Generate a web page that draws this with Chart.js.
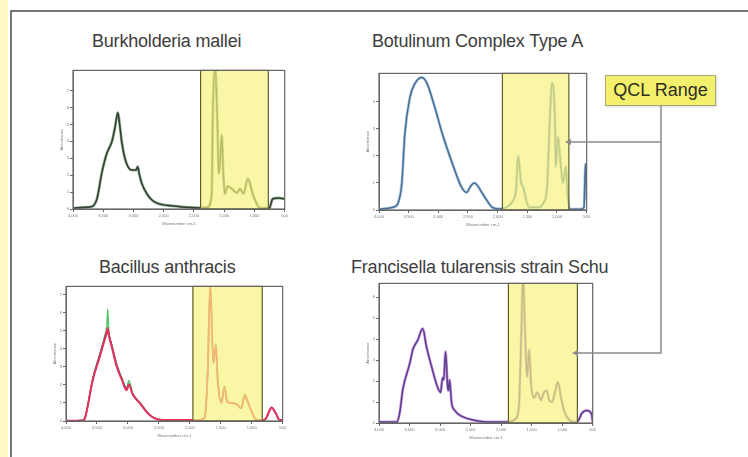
<!DOCTYPE html>
<html>
<head>
<meta charset="utf-8">
<script src="https://cdn.jsdelivr.net/npm/chart.js@4.4.1/dist/chart.umd.min.js"></script>
<style>
  html, body { margin: 0; padding: 0; background: #fff; }
  #page { position: relative; width: 748px; height: 457px; overflow: hidden; background: #fff; }
  #strip { position: absolute; left: 0; top: 0; width: 8px; height: 457px; background: #fcf9c6; }
  canvas { position: absolute; }
  .title { position: absolute; font-family: "Liberation Sans", Arial, sans-serif; font-size: 18px; color: #3d3d3d; white-space: nowrap; letter-spacing: -0.2px; }
  #qcl { position: absolute; left: 605px; top: 75px; width: 109px; height: 29px; background: #f4f06c;
         border: 1px solid #a9a77a; box-shadow: 1px 1px 2px rgba(0,0,0,0.15);
         font-family: "Liberation Sans", Arial, sans-serif; font-size: 18px; color: #2e2e22;
         text-align: center; line-height: 29px; }
  svg { position: absolute; left: 0; top: 0; }
</style>
</head>
<body>
<div id="page">
  <div id="strip"></div>

  <div class="title" style="left:92px; top:31px;">Burkholderia mallei</div>
  <div class="title" style="left:372px; top:31px;">Botulinum Complex Type A</div>
  <div class="title" style="left:99px; top:257px;">Bacillus anthracis</div>
  <div class="title" style="left:351px; top:257px;">Francisella tularensis strain Schu</div>

  <canvas id="c1" width="230" height="160" style="left:59px; top:67px;"></canvas>
  <canvas id="c2" width="226" height="158" style="left:365px; top:70px;"></canvas>
  <canvas id="c3" width="235" height="156" style="left:52px; top:283px;"></canvas>
  <canvas id="c4" width="232" height="161" style="left:365px; top:280px;"></canvas>

  <div id="qcl">QCL Range</div>

  <svg width="748" height="457">
    <!-- outer frame -->
    <polyline points="11,457 11,11 748,11" fill="none" stroke="#4a4a4a" stroke-width="1.5"/>
    <!-- callout connectors -->
    <polyline points="661,105 661,353 576,353" fill="none" stroke="#8a8a8a" stroke-width="1.5"/>
    <line x1="661" y1="142" x2="569" y2="142" stroke="#8a8a8a" stroke-width="1.5"/>
    <polygon points="565,142 571,139 571,145" fill="#8a8a8a"/>
    <polygon points="572,353 578,350 578,356" fill="#8a8a8a"/>
  </svg>
</div>

<script>
// Burkholderia mallei
const wn1 = [4000, 3800, 3686, 3604, 3520, 3440, 3356, 3307, 3274, 3257, 3225, 3191, 3125, 3026, 2960, 2930, 2900, 2861, 2778, 2700, 2613, 2349, 2100, 1903, 1771, 1705, 1689, 1650, 1615, 1590, 1560, 1540, 1515, 1490, 1440, 1375, 1290, 1240, 1180, 1110, 1080, 1030, 960, 910, 790, 750, 720, 700, 600, 500];
const abs1 = [0.05, 0.1, 0.15, 0.6, 2.2, 3.3, 4.0, 4.8, 5.5, 5.7, 4.9, 3.9, 2.8, 2.3, 2.3, 2.5, 2.0, 1.5, 0.9, 0.55, 0.35, 0.18, 0.1, 0.06, 0.1, 1.0, 5.4, 8.5, 5.5, 2.1, 3.2, 4.4, 2.2, 0.9, 1.35, 1.2, 0.95, 1.2, 0.9, 1.8, 1.6, 0.9, 0.3, 0.06, 0.05, 0.06, 0.4, 0.6, 0.65, 0.6];

// Botulinum Complex Type A
const wn2 = [4000, 3765, 3680, 3615, 3565, 3480, 3400, 3280, 3195, 3060, 2930, 2760, 2610, 2525, 2450, 2390, 2340, 2225, 2090, 1975, 1855, 1755, 1690, 1655, 1605, 1570, 1520, 1470, 1300, 1220, 1170, 1120, 1085, 1035, 1020, 985, 935, 900, 850, 820, 785, 585, 545, 520, 505, 500];
const abs2 = [0.03, 0.1, 0.25, 1.0, 2.8, 4.15, 4.65, 4.9, 4.7, 3.8, 2.8, 1.7, 0.85, 0.65, 0.9, 1.0, 0.9, 0.5, 0.1, 0.04, 0.1, 0.3, 0.75, 2.0, 1.0, 0.85, 0.37, 0.1, 0.1, 0.3, 0.75, 3.4, 4.7, 3.4, 1.6, 2.7, 1.6, 1.0, 1.6, 0.5, 0.03, 0.03, 0.1, 1.7, 1.2, 0.4];

// Bacillus anthracis (three replicates)
const wn3 = [4000, 3730, 3695, 3565, 3455, 3375, 3340, 3325, 3310, 3260, 3180, 3100, 3020, 2985, 2920, 2810, 2650, 2520, 2300, 2040, 1850, 1760, 1710, 1670, 1620, 1580, 1550, 1490, 1440, 1395, 1310, 1230, 1170, 1110, 1080, 1010, 960, 900, 800, 760, 710, 680, 600, 550, 500];
const abs3red = [0.02, 0.03, 0.15, 2.3, 3.55, 4.5, 4.9, 5.15, 4.8, 4.1, 3.0, 2.3, 1.7, 2.0, 1.45, 1.0, 0.33, 0.1, 0.05, 0.05, 0.05, 0.2, 2.8, 7.6, 3.2, 4.2, 2.3, 1.0, 1.9, 1.05, 1.0, 0.9, 0.7, 1.45, 1.2, 0.6, 0.2, 0.05, 0.05, 0.2, 0.6, 0.75, 0.35, 0.05, 0.05];
const abs3green = [0.02, 0.03, 0.15, 2.4, 3.7, 4.7, 5.3, 6.2, 5.0, 4.2, 3.1, 2.4, 1.8, 2.25, 1.5, 1.05, 0.35, 0.1, 0.05, 0.05, 0.05, 0.2, 2.9, 7.6, 3.3, 4.3, 2.4, 1.05, 1.95, 1.1, 1.0, 0.9, 0.7, 1.5, 1.25, 0.6, 0.2, 0.05, 0.05, 0.2, 0.6, 0.75, 0.35, 0.05, 0.05];
const abs3gray = [0.02, 0.03, 0.15, 2.35, 3.65, 4.6, 5.0, 5.1, 4.85, 4.2, 3.1, 2.35, 1.8, 2.05, 1.5, 1.0, 0.33, 0.1, 0.05, 0.05, 0.05, 0.2, 2.8, 7.5, 3.2, 4.1, 2.3, 1.0, 1.85, 1.05, 1.0, 0.9, 0.7, 1.4, 1.2, 0.6, 0.2, 0.05, 0.05, 0.2, 0.6, 0.75, 0.35, 0.05, 0.05];

// Francisella tularensis strain Schu
const wn4 = [4000, 3707, 3660, 3610, 3495, 3445, 3365, 3285, 3220, 3140, 3040, 2990, 2960, 2940, 2910, 2875, 2860, 2845, 2810, 2760, 2630, 2470, 2240, 1880, 1760, 1705, 1670, 1640, 1605, 1575, 1540, 1510, 1460, 1410, 1345, 1300, 1250, 1215, 1165, 1100, 1070, 1020, 970, 925, 860, 760, 720, 680, 600, 520, 500];
const abs4 = [0.05, 0.05, 0.5, 1.6, 2.85, 3.5, 3.95, 4.5, 3.6, 2.7, 1.7, 1.45, 2.15, 2.05, 3.4, 1.7, 1.55, 2.05, 0.95, 0.6, 0.3, 0.15, 0.05, 0.05, 0.2, 0.95, 4.1, 7.0, 4.1, 2.2, 3.5, 1.9, 1.2, 1.45, 1.1, 1.45, 1.55, 1.1, 1.0, 1.7, 1.95, 1.25, 0.6, 0.3, 0.1, 0.05, 0.2, 0.45, 0.6, 0.45, 0.05];

// QCL window (cm-1) marked on each plot
const qclRanges = [[1890, 770], [1920, 800], [1950, 830], [1880, 750]];
const yMax = [8.2, 5.05, 7.45, 6.65];

const toPoints = (xs, ys) => xs.map((x, i) => ({ x: x, y: ys[i] }));

const qclPlugin = {
    id: 'qcl',
    afterDatasetsDraw(chart, args, opts) {
        const { ctx, chartArea, scales } = chart;
        const x1 = scales.x.getPixelForValue(opts.from);
        const x2 = scales.x.getPixelForValue(opts.to);
        ctx.save();
        ctx.fillStyle = 'rgba(246, 243, 128, 0.7)';
        ctx.fillRect(x1, chartArea.top, x2 - x1, chartArea.bottom - chartArea.top);
        ctx.strokeStyle = '#5f5f2e';
        ctx.lineWidth = 1.2;
        ctx.strokeRect(x1, chartArea.top, x2 - x1, chartArea.bottom - chartArea.top);
        ctx.restore();
    },
    afterDraw(chart) {
        const { ctx, chartArea } = chart;
        ctx.save();
        ctx.strokeStyle = '#666';
        ctx.lineWidth = 1.2;
        ctx.strokeRect(chartArea.left, chartArea.top, chartArea.right - chartArea.left, chartArea.bottom - chartArea.top);
        ctx.restore();
    }
};

// order: lower number is drawn on top
function line(data, color, width, order) {
    return {
        data: data,
        borderColor: color,
        borderWidth: width,
        pointRadius: 0,
        fill: false,
        order: order,
        cubicInterpolationMode: 'monotone'
    };
}

function makeChart(id, datasets, idx) {
    const ctx = document.getElementById(id).getContext('2d');
    return new Chart(ctx, {
        type: 'line',
        data: { datasets: datasets },
        plugins: [qclPlugin],
        options: {
            responsive: false,
            animation: false,
            devicePixelRatio: 1,
            layout: { padding: { top: 3, right: 3, left: 0, bottom: 0 } },
            plugins: {
                legend: { display: false },
                tooltip: { enabled: false },
                qcl: { from: qclRanges[idx][0], to: qclRanges[idx][1] }
            },
            scales: {
                x: {
                    type: 'linear',
                    reverse: true,
                    min: 500,
                    max: 4000,
                    afterFit: s => { s.height = 18; },
                    ticks: { stepSize: 500, autoSkip: false, maxRotation: 0, padding: 1, font: { size: 4 }, color: '#777' },
                    grid: { drawOnChartArea: false, tickLength: 3, color: '#666' },
                    border: { color: '#666' },
                    title: { display: true, text: 'Wavenumber cm-1', font: { size: 4 }, color: '#777', padding: 1 }
                },
                y: {
                    min: 0,
                    max: yMax[idx],
                    afterFit: s => { s.width = 14; },
                    afterBuildTicks: s => { s.ticks = s.ticks.filter(t => Number.isInteger(t.value)); },
                    ticks: { stepSize: 1, autoSkip: false, padding: 1, font: { size: 4 }, color: '#777' },
                    grid: { drawOnChartArea: false, tickLength: 3, color: '#666' },
                    border: { color: '#666' },
                    title: { display: true, text: 'Absorbance', font: { size: 4 }, color: '#777', padding: 0 }
                }
            }
        }
    });
}

makeChart('c1', [
    line(toPoints(wn1, abs1), '#3a3a3a', 1.5, 0),
    line(toPoints(wn1, abs1), '#86b486', 2.8, 1)
], 0);

makeChart('c2', [
    line(toPoints(wn2, abs2), '#4f6d90', 1.5, 0),
    line(toPoints(wn2, abs2), '#a2c7e6', 2.8, 1)
], 1);

makeChart('c3', [
    line(toPoints(wn3, abs3red), '#e8305e', 2.0, 0),
    line(toPoints(wn3, abs3gray), '#555', 1.5, 1),
    line(toPoints(wn3, abs3green), '#52c46a', 1.4, 2)
], 2);

makeChart('c4', [
    line(toPoints(wn4, abs4), '#5a3f8e', 1.5, 0),
    line(toPoints(wn4, abs4), '#d29ce0', 2.8, 1)
], 3);
</script>
</body>
</html>
